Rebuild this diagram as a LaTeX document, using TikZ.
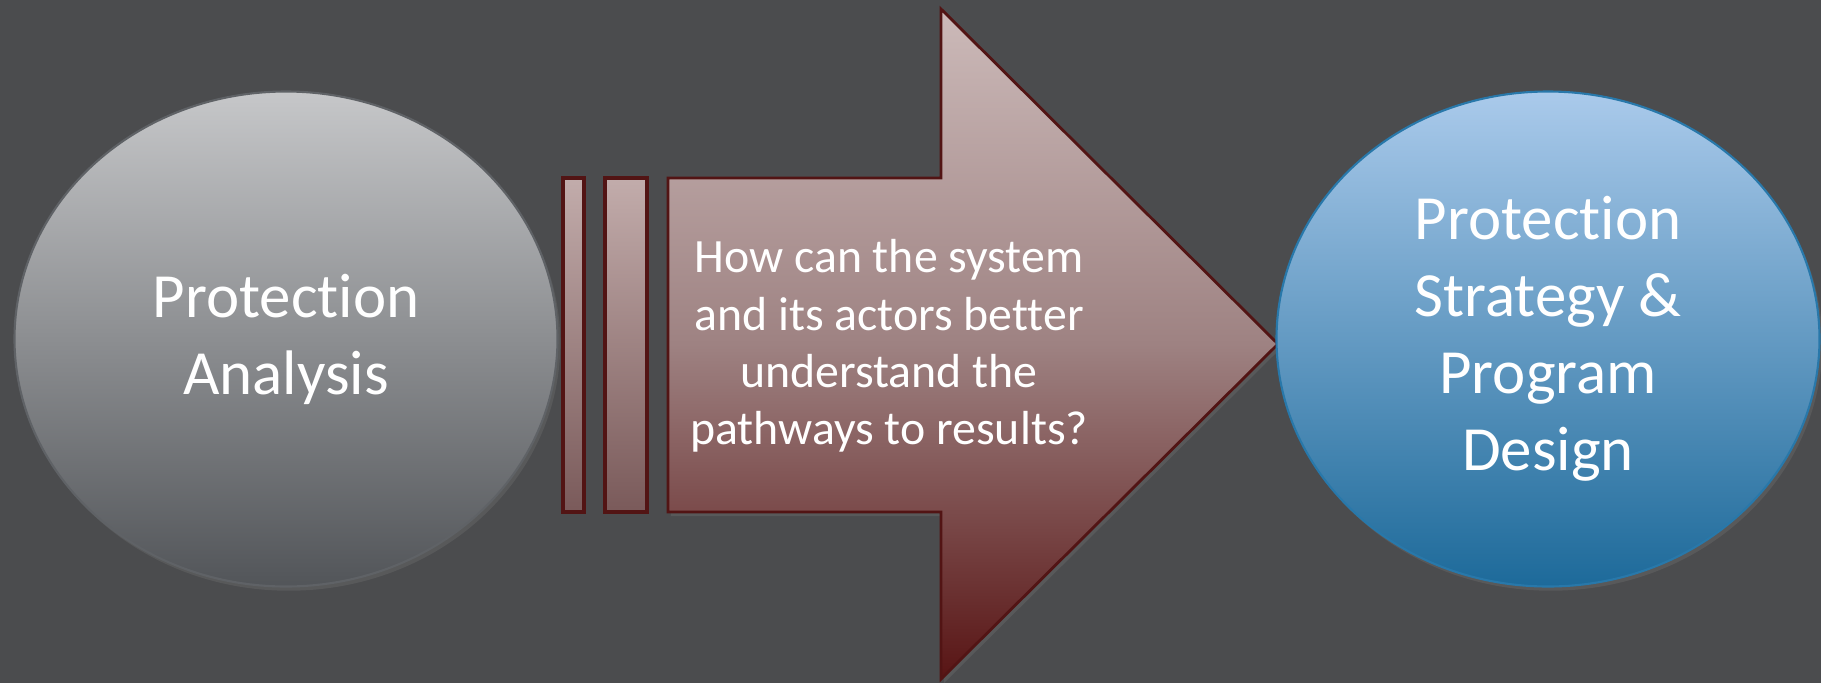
\documentclass[tikz,border=0pt]{standalone}
\usepackage{fontspec}
\setmainfont{Carlito}[Ligatures=NoCommon]
\usepackage{tikz}
\usetikzlibrary{shapes.geometric,shadows}
\definecolor{slidegray}{RGB}{75,76,78}
\definecolor{analysistop}{RGB}{198,199,201}
\definecolor{analysisbot}{RGB}{82,85,89}
\definecolor{analysisedge}{RGB}{95,98,102}
\definecolor{designtop}{RGB}{170,202,235}
\definecolor{designbot}{RGB}{29,106,154}
\definecolor{designedge}{RGB}{40,120,170}
\definecolor{arrowtop}{RGB}{204,186,185}
\definecolor{arrowmid}{RGB}{158,130,130}
\definecolor{arrowbot}{RGB}{88,20,20}
\definecolor{arrowedge}{RGB}{82,20,20}

\begin{document}
\begin{tikzpicture}[
    phase/.style={ellipse, line width=0.6pt, minimum width=5.43cm, minimum height=4.95cm,
        inner sep=0pt, align=center, text=white, font=\fontsize{17.9}{21.9}\selectfont,
        drop shadow={opacity=0.25, shadow xshift=0.8pt, shadow yshift=-1.2pt}},
    stripe/.style={draw=arrowedge, line width=0.9pt,
        top color={rgb,255:red,194;green,172;blue,171}, bottom color={rgb,255:red,122;green,90;blue,90}},
]
    \fill[slidegray] (0,0) rectangle (18.21,6.83);

    % analysis
    \node[phase, draw=analysisedge, top color=analysistop, bottom color=analysisbot]
        (analysis) at (2.86,3.44) {Protection\\Analysis};

    % stripes in front of the arrow
    \draw[stripe] (5.63,1.71) rectangle (5.84,5.05);
    \draw[stripe] (6.05,1.71) rectangle (6.47,5.05);

    % arrow
    \draw[draw=arrowedge, line width=0.8pt, top color=arrowtop, bottom color=arrowbot,
        middle color=arrowmid,
        drop shadow={opacity=0.25, shadow xshift=0.8pt, shadow yshift=-1.2pt}]
        (6.68,1.71) -- (6.68,5.05) -- (9.41,5.05) -- (9.41,6.74) -- (12.78,3.39)
        -- (9.41,0.04) -- (9.41,1.71) -- cycle;
    \node[align=center, text=white, font=\fontsize{13.6}{16.35}\selectfont]
        (question) at (8.89,3.37)
        {How can the system\\and its actors better\\understand the\\pathways to results?};

    % design
    \node[phase, draw=designedge, top color=designtop, bottom color=designbot]
        (design) at (15.48,3.44) {Protection\\Strategy \&\\Program\\Design};
\end{tikzpicture}
\end{document}
